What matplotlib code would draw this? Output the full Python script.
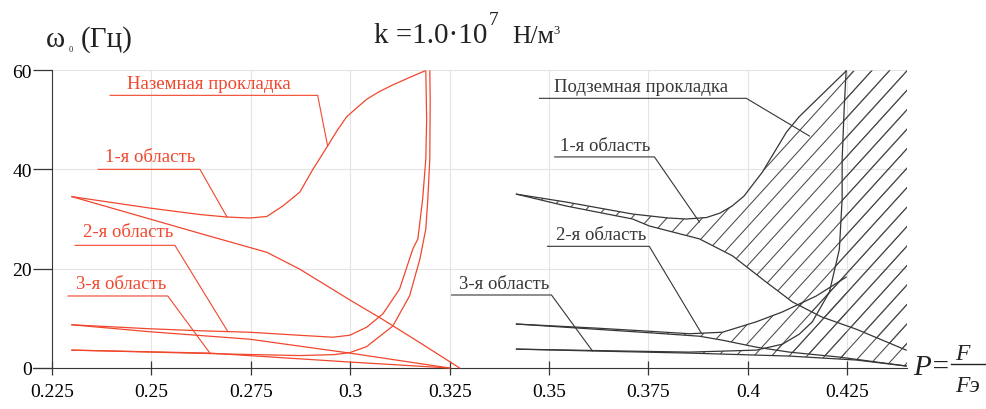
import numpy as np
import matplotlib
matplotlib.use("Agg")
import matplotlib.pyplot as plt
from matplotlib.patches import Polygon
from matplotlib.collections import LineCollection

# ── above-ground laying (red) ────────────────────────────────────────────────
r1_up_x = [0.2300, 0.2496, 0.2622, 0.2690, 0.2747, 0.2790, 0.2830, 0.2873,
           0.2906, 0.2943, 0.2966, 0.2991, 0.3041, 0.3074, 0.3107, 0.3149, 0.3187]
r1_up_y = [34.5, 32.2, 30.9, 30.4, 30.2, 30.5, 32.6, 35.4, 40.0, 44.7, 47.7,
           50.6, 54.1, 55.7, 57.0, 58.5, 59.8]
r1_lo_x = [0.2300, 0.2496, 0.2622, 0.2790, 0.2873, 0.2999, 0.3079, 0.3175, 0.3275]
r1_lo_y = [34.5, 30.0, 27.1, 23.3, 19.9, 13.7, 9.9, 5.1, 0.0]

r2_loop_x = [0.2300, 0.2496, 0.2622, 0.2747, 0.2870, 0.2956, 0.2999, 0.3041,
             0.3082, 0.3124, 0.3157, 0.3170, 0.3182, 0.3190, 0.3192, 0.3190]
r2_loop_y = [8.7, 7.9, 7.5, 7.2, 6.6, 6.2, 6.6, 8.2, 10.9, 15.9, 23.9, 26.0,
             34.0, 42.1, 50.1, 59.8]
r2_lo_x = [0.2300, 0.2496, 0.2747, 0.2873, 0.2999, 0.3124, 0.3250]
r2_lo_y = [8.7, 7.3, 5.8, 4.4, 3.0, 1.5, 0.0]

r3_loop_x = [0.2300, 0.2500, 0.2700, 0.2873, 0.2960, 0.2999, 0.3041, 0.3107,
             0.3149, 0.3175, 0.3190, 0.3195, 0.3200, 0.3201, 0.3200]
r3_loop_y = [3.6, 3.2, 2.8, 2.5, 2.7, 3.1, 4.3, 8.45, 14.5, 21.9, 28.0, 34.0,
             42.1, 54.0, 59.8]
r3_lo_x = [0.2300, 0.2647, 0.2999, 0.3124, 0.3250]
r3_lo_y = [3.6, 3.0, 1.2, 0.6, 0.0]

# ── underground laying (black) ───────────────────────────────────────────────
b1_up_x = [0.3418, 0.3544, 0.3710, 0.3800, 0.3845, 0.3896, 0.3930, 0.3960,
           0.3990, 0.4036, 0.4097, 0.4129, 0.4247]
b1_up_y = [35.0, 33.4, 31.0, 30.2, 30.0, 30.3, 31.2, 32.6, 34.6, 39.4, 47.5,
           50.6, 59.8]
b1_lo_x = [0.3418, 0.3544, 0.3710, 0.3752, 0.3878, 0.3961, 0.4046, 0.4112,
           0.4185, 0.4273, 0.4398]
b1_lo_y = [35.0, 32.6, 30.0, 28.6, 26.0, 22.6, 17.3, 13.3, 10.3, 7.8, 3.6]

b2_loop_x = [0.3418, 0.3626, 0.3752, 0.3853, 0.3936, 0.4021, 0.4087, 0.4172, 0.4247]
b2_loop_y = [8.85, 8.0, 7.4, 6.9, 7.2, 9.3, 11.3, 14.5, 18.3]
b2_lo_x = [0.3418, 0.3752, 0.3878, 0.3936, 0.4021, 0.4104, 0.4230, 0.4398]
b2_lo_y = [8.85, 7.1, 6.4, 5.6, 4.2, 3.2, 2.2, 0.4]

b3_loop_x = [0.3418, 0.3626, 0.3853, 0.4021, 0.4087, 0.4129, 0.4162, 0.4205,
             0.4230, 0.4237, 0.4237, 0.4242, 0.4247]
b3_loop_y = [3.8, 3.5, 3.2, 3.6, 4.8, 6.8, 9.3, 15.3, 23.9, 34.0, 42.0, 52.0, 59.8]
b3_lo_x = [0.3418, 0.3626, 0.3853, 0.4104, 0.4273, 0.4398]
b3_lo_y = [3.8, 3.4, 3.0, 2.4, 1.6, 0.4]

x_ticks = [0.225, 0.25, 0.275, 0.3, 0.325, 0.35, 0.375, 0.4, 0.425]
x_tick_labels = ["0.225", "0.25", "0.275", "0.3", "0.325", "0.35", "0.375", "0.4", "0.425"]
y_ticks = [0, 20, 40, 60]

red_labels = ["Наземная прокладка", "1-я область", "2-я область", "3-я область"]
black_labels = ["Подземная прокладка", "1-я область", "2-я область", "3-я область"]

RED = "#f0472d"
INK = "#363636"
SERIF = "Liberation Serif"
X0, X1, Y0, Y1 = 0.2202, 0.44, 0, 60

fig = plt.figure(figsize=(9.87, 4.10), dpi=100)
ax = fig.add_axes([0.0334, 0.1, 0.8855, 0.7268])
ax.set_xlim(X0, X1)
ax.set_ylim(Y0, Y1)

# ── axes styling ──
for s in ("top", "right"):
    ax.spines[s].set_visible(False)
ax.spines["left"].set_position(("data", 0.225))
ax.spines["left"].set_color(INK)
ax.spines["bottom"].set_color(INK)
ax.set_xticks(x_ticks)
ax.set_xticklabels(x_tick_labels, family=SERIF, fontsize=14)
ax.set_yticks(y_ticks)
ax.set_yticklabels([str(v) for v in y_ticks], family=SERIF, fontsize=14)
ax.tick_params(axis="x", direction="inout", length=10, width=0.9, color=INK, pad=6)
ax.tick_params(axis="y", direction="out", length=13.5, width=0.9, color=INK, pad=1)
ax.grid(True, color="#e4e4e4", lw=0.8)
ax.set_axisbelow(True)

# ── hatched instability zones (underground) ──
# diagonal hatch lines, ~18 px apart, drawn in data units and clipped per zone
fig.canvas.draw()
bb = ax.get_window_extent()
px_x = bb.width / (X1 - X0)
px_y = bb.height / (Y1 - Y0)
slope = 1.1 * px_x / px_y
run = (Y1 - Y0) / slope
step = 17.7 / px_x
starts = np.arange(0.32, X1 + run + step, step)
hatch_segs = [[(c - run, Y0), (c, Y1)] for c in starts]


def hatch(xs, ys):
    poly = Polygon(np.column_stack([xs, ys]), closed=True, facecolor="none",
                   edgecolor="none", transform=ax.transData)
    ax.add_patch(poly)
    lc = LineCollection(hatch_segs, colors="#4a4a4a", linewidths=0.75, zorder=1)
    ax.add_collection(lc)
    lc.set_clip_path(poly)


hatch(b1_up_x + [X1, X1] + b1_lo_x[::-1], b1_up_y + [60, b1_lo_y[-1]] + b1_lo_y[::-1])
end2 = b2_loop_x[-1]
keep = [i for i, v in enumerate(b2_lo_x) if v < end2]
hatch(b2_loop_x + [end2] + [b2_lo_x[i] for i in keep][::-1],
      b2_loop_y + [float(np.interp(end2, b2_lo_x, b2_lo_y))] + [b2_lo_y[i] for i in keep][::-1])
hatch(b3_loop_x + [X1, X1] + b3_lo_x[::-1], b3_loop_y + [60, b3_lo_y[-1]] + b3_lo_y[::-1])

# ── curves ──
for xs, ys in [(r1_up_x, r1_up_y), (r1_lo_x, r1_lo_y), (r2_loop_x, r2_loop_y),
               (r2_lo_x, r2_lo_y), (r3_loop_x, r3_loop_y), (r3_lo_x, r3_lo_y)]:
    ax.plot(xs, ys, color=RED, lw=0.9, clip_on=False, zorder=3)
for xs, ys in [(b1_up_x, b1_up_y), (b1_lo_x, b1_lo_y), (b2_loop_x, b2_loop_y),
               (b2_lo_x, b2_lo_y), (b3_loop_x, b3_loop_y), (b3_lo_x, b3_lo_y)]:
    ax.plot(xs, ys, color=INK, lw=0.9, clip_on=False, zorder=3)


# ── callout labels: text centre, underline (x0, x1, y), leader target ──
def callout(text, color, cx, cy, ux0, ux1, uy, tx, ty):
    ax.text(cx, cy, text, color=color, family=SERIF, fontsize=13.5,
            ha="center", va="center", zorder=4)
    ax.plot([ux0, ux1, tx], [uy, uy, ty], color=color, lw=0.8, zorder=4)


on = lambda x, xs, ys: float(np.interp(x, xs, ys))
callout(red_labels[0], RED, 0.2645, 57.3, 0.2396, 0.2918, 54.9, 0.2943, on(0.2943, r1_up_x, r1_up_y))
callout(red_labels[1], RED, 0.2496, 42.6, 0.2366, 0.2622, 40.0, 0.2690, on(0.2690, r1_up_x, r1_up_y))
callout(red_labels[2], RED, 0.2441, 27.5, 0.2308, 0.2559, 24.7, 0.2692, on(0.2692, r2_loop_x, r2_loop_y))
callout(red_labels[3], RED, 0.2423, 17.0, 0.2290, 0.2541, 14.5, 0.2647, on(0.2647, r3_lo_x, r3_lo_y))

callout(black_labels[0], INK, 0.3732, 56.7, 0.3476, 0.3996, 54.3, 0.4155, 46.7)
callout(black_labels[1], INK, 0.3642, 44.9, 0.3514, 0.3765, 42.5, 0.3878, 29.4)
callout(black_labels[2], INK, 0.3632, 26.8, 0.3496, 0.3752, 24.5, 0.3883, on(0.3883, b2_loop_x, b2_loop_y))
callout(black_labels[3], INK, 0.3386, 17.1, 0.3255, 0.3506, 14.7, 0.3609, on(0.3609, b3_lo_x, b3_lo_y))

# ── header texts ──
W, H = 987.0, 410.0
fig.text(46 / W, 1 - 47 / H, "ω", family=SERIF, fontsize=21, color="#222", va="baseline")
fig.text(69 / W, 1 - 52 / H, "0", family=SERIF, fontsize=6, color="#222", va="baseline")
fig.text(81 / W, 1 - 47 / H, "(Гц)", family=SERIF, fontsize=21, color="#222", va="baseline")
fig.text(374 / W, 1 - 43 / H, "k =1.0·10", family=SERIF, fontsize=21, color="#222", va="baseline")
fig.text(489 / W, 1 - 25 / H, "7", family=SERIF, fontsize=14, color="#222", va="baseline")
fig.text(512 / W, 1 - 43 / H, "Н/м", family=SERIF, fontsize=18.5, color="#222", va="baseline")
fig.text(553 / W, 1 - 34 / H, "3", family=SERIF, fontsize=9, color="#222", va="baseline")

# ── x-axis name  P = F / Fэ ──
fig.text(913 / W, 1 - 375 / H, "P=", family=SERIF, style="italic", fontsize=21,
         color="#222", va="baseline")
fig.text(962 / W, 1 - 360 / H, "F", family=SERIF, style="italic", fontsize=17,
         color="#222", va="baseline", ha="center")
fig.text(968 / W, 1 - 392 / H, "Fэ", family=SERIF, style="italic", fontsize=17,
         color="#222", va="baseline", ha="center")
fig.add_artist(plt.Line2D([951 / W, 986 / W], [1 - 365 / H, 1 - 365 / H],
                          color="#222", lw=1.0, transform=fig.transFigure))

fig.savefig("out.png", dpi=100)
